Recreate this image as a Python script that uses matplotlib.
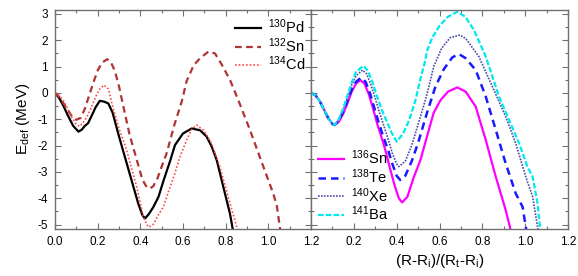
import matplotlib
matplotlib.use("Agg")
import matplotlib.pyplot as plt
from matplotlib.ticker import MultipleLocator, FixedLocator, FixedFormatter

plt.rcParams['font.family'] = ['Liberation Sans', 'DejaVu Sans']
plt.rcParams['mathtext.default'] = 'regular'
plt.rcParams['axes.unicode_minus'] = False

# ---------------- left panel data ----------------
pd130_x = [0, 0.02, 0.04, 0.06, 0.085, 0.11, 0.125, 0.14, 0.155, 0.17, 0.19, 0.21, 0.23, 0.25,
           0.27, 0.30, 0.33, 0.36, 0.39, 0.41, 0.422, 0.44, 0.46, 0.485, 0.51, 0.539, 0.5625,
           0.60, 0.641, 0.68, 0.711, 0.735, 0.758, 0.789, 0.82, 0.836]
pd130_y = [0, -0.2, -0.5, -0.85, -1.25, -1.47, -1.4, -1.25, -1.15, -0.9, -0.55, -0.30, -0.33, -0.40,
           -0.75, -1.65, -2.5, -3.35, -4.2, -4.65, -4.77, -4.6, -4.35, -3.95, -3.3, -2.6, -1.98,
           -1.54, -1.35, -1.42, -1.66, -2.05, -2.55, -3.57, -4.58, -5.3]

sn132_x = [0, 0.02, 0.04, 0.06, 0.08, 0.10, 0.12, 0.14, 0.16, 0.18, 0.20, 0.22, 0.245, 0.26, 0.28,
           0.30, 0.32, 0.35, 0.38, 0.41, 0.43, 0.445, 0.46, 0.48, 0.50, 0.523, 0.56, 0.594, 0.617,
           0.65, 0.68, 0.719, 0.75, 0.78, 0.82, 0.859, 0.914, 0.977, 1.023, 1.04, 1.055, 1.062]
sn132_y = [0, -0.15, -0.4, -0.65, -0.9, -1.02, -0.95, -0.6, -0.1, 0.4, 0.85, 1.15, 1.28, 1.2, 0.85,
           0.25, -0.5, -1.6, -2.45, -3.3, -3.58, -3.63, -3.55, -3.25, -2.8, -2.3, -1.2, -0.33, 0.45,
           1.05, 1.32, 1.57, 1.5, 1.1, 0.5, -0.27, -1.41, -2.81, -3.82, -4.3, -5.15, -5.4]

cd134_x = [0, 0.02, 0.04, 0.06, 0.08, 0.10, 0.115, 0.13, 0.15, 0.165, 0.19, 0.21, 0.23, 0.25, 0.273,
           0.30, 0.336, 0.36, 0.383, 0.414, 0.43, 0.44, 0.46, 0.48, 0.508, 0.53, 0.56, 0.586, 0.617,
           0.64, 0.664, 0.70, 0.734, 0.773, 0.812, 0.852, 0.86]
cd134_y = [0, -0.1, -0.3, -0.6, -0.95, -1.2, -1.27, -1.15, -0.9, -0.65, -0.15, 0.15, 0.30, 0.15, -0.6,
           -1.35, -2.17, -2.9, -3.57, -4.71, -5.0, -5.1, -5.0, -4.7, -4.33, -3.8, -3.1, -2.43, -1.79,
           -1.4, -1.22, -1.45, -1.92, -2.81, -3.95, -5.09, -5.4]

# ---------------- right panel data ----------------
sn136_x = [0, 0.02, 0.04, 0.06, 0.08, 0.10, 0.11, 0.13, 0.15, 0.17, 0.19, 0.21, 0.23, 0.25, 0.27,
           0.29, 0.31, 0.33, 0.347, 0.37, 0.39, 0.41, 0.425, 0.45, 0.48, 0.511, 0.54, 0.573, 0.605,
           0.64, 0.683, 0.722, 0.769, 0.816, 0.863, 0.909, 0.935]
sn136_y = [0, -0.08, -0.3, -0.62, -0.95, -1.18, -1.22, -1.1, -0.8, -0.4, 0.05, 0.35, 0.49, 0.35, -0.05,
           -0.6, -1.2, -1.7, -2.17, -2.9, -3.5, -4.0, -4.16, -3.95, -3.2, -2.55, -1.7, -0.75, -0.27,
           0.05, 0.21, 0.05, -0.52, -1.79, -3.19, -4.45, -5.3]

te138_x = [0, 0.02, 0.04, 0.06, 0.08, 0.10, 0.11, 0.13, 0.15, 0.17, 0.19, 0.21, 0.234, 0.255, 0.275,
           0.295, 0.315, 0.335, 0.36, 0.38, 0.40, 0.417, 0.44, 0.47, 0.50, 0.54, 0.581, 0.62, 0.66,
           0.69, 0.722, 0.769, 0.816, 0.863, 0.909, 0.956, 0.988, 1.003, 1.01]
te138_y = [0, -0.08, -0.3, -0.62, -0.95, -1.18, -1.22, -1.05, -0.72, -0.3, 0.12, 0.42, 0.58, 0.42, 0.0,
           -0.55, -1.1, -1.6, -2.17, -2.7, -3.15, -3.31, -3.15, -2.6, -1.9, -0.8, 0.24, 0.9, 1.35,
           1.48, 1.32, 0.87, -0.14, -1.41, -2.68, -3.82, -4.33, -5.09, -5.4]

xe140_x = [0, 0.02, 0.04, 0.06, 0.08, 0.10, 0.11, 0.13, 0.15, 0.17, 0.19, 0.21, 0.241, 0.26, 0.28,
           0.30, 0.32, 0.34, 0.36, 0.38, 0.40, 0.41, 0.44, 0.47, 0.50, 0.54, 0.573, 0.61, 0.65,
           0.695, 0.722, 0.784, 0.847, 0.909, 0.956, 1.003, 1.035, 1.058, 1.065]
xe140_y = [0, -0.08, -0.3, -0.62, -0.95, -1.18, -1.22, -1.02, -0.65, -0.2, 0.3, 0.65, 0.87, 0.72, 0.3,
           -0.2, -0.75, -1.25, -1.75, -2.3, -2.7, -2.8, -2.6, -2.0, -1.2, -0.1, 1.0, 1.7, 2.1,
           2.2, 2.07, 1.38, 0.24, -0.9, -1.92, -3.19, -3.95, -5.09, -5.4]

ba141_x = [0, 0.02, 0.04, 0.06, 0.08, 0.10, 0.11, 0.13, 0.15, 0.17, 0.19, 0.21, 0.245, 0.265, 0.285,
           0.305, 0.331, 0.355, 0.378, 0.40, 0.43, 0.46, 0.488, 0.51, 0.534, 0.542, 0.566, 0.60,
           0.64, 0.683, 0.72, 0.761, 0.816, 0.878, 0.925, 0.972, 1.011, 1.035, 1.058, 1.069, 1.075]
ba141_y = [0, -0.08, -0.3, -0.62, -0.95, -1.18, -1.22, -1.0, -0.6, -0.1, 0.4, 0.8, 1.03, 0.85, 0.45,
           -0.05, -0.65, -1.1, -1.54, -1.85, -1.55, -1.0, -0.27, 0.5, 1.25, 1.6, 2.1, 2.55,
           2.9, 3.08, 2.9, 2.39, 1.38, -0.14, -1.03, -1.92, -2.81, -3.19, -4.2, -5.09, -5.4]

xticks_left = [0.0, 0.2, 0.4, 0.6, 0.8, 1.0, 1.2]
xlabels_left = ['0.0', '0.2', '0.4', '0.6', '0.8', '1.0', '1.2']
xlabels_right = ['', '0.2', '0.4', '0.6', '0.8', '1.0', '1.2']
yticks = [-5, -4, -3, -2, -1, 0, 1, 2, 3]

W, H = 578, 276
fig = plt.figure(figsize=(W / 100, H / 100), dpi=100)
axL = fig.add_axes([55 / W, 1 - 229 / H, 256 / W, 219.5 / H])
axR = fig.add_axes([311 / W, 1 - 229 / H, 257 / W, 219.5 / H])

spine_col = '#707070'
for ax in (axL, axR):
    ax.set_xlim(0, 1.2)
    ax.set_ylim(-5.17, 3.17)
    ax.xaxis.set_major_locator(FixedLocator(xticks_left))
    ax.xaxis.set_minor_locator(MultipleLocator(0.1))
    ax.yaxis.set_major_locator(FixedLocator(yticks))
    ax.yaxis.set_minor_locator(MultipleLocator(0.5))
    ax.tick_params(which='both', direction='in', top=True, right=True, color=spine_col,
                   labelsize=8.5, width=0.8)
    ax.tick_params(which='major', length=4)
    ax.tick_params(which='minor', length=2)
    ax.tick_params(axis='x', pad=5)
    ax.tick_params(axis='y', pad=5)
    for s in ax.spines.values():
        s.set_color(spine_col)
        s.set_linewidth(1.0)

axL.xaxis.set_major_formatter(FixedFormatter(xlabels_left))
axR.xaxis.set_major_formatter(FixedFormatter(xlabels_right))
axR.set_yticklabels([])

axL.plot(pd130_x, pd130_y, color='black', lw=1.6, label='$^{130}$Pd')
axL.plot(sn132_x, sn132_y, color='#b03434', lw=1.6, dashes=(3, 2), label='$^{132}$Sn')
axL.plot(cd134_x, cd134_y, color='#ff4a4a', lw=1.2, dashes=(1, 1.2), label='$^{134}$Cd')

axR.plot(sn136_x, sn136_y, color='#ff00ff', lw=1.6, label='$^{136}$Sn')
axR.plot(te138_x, te138_y, color='#1a1aff', lw=1.8, dashes=(3, 2), label='$^{138}$Te')
axR.plot(xe140_x, xe140_y, color='#4a4aa8', lw=1.2, dashes=(1, 0.8), label='$^{140}$Xe')
axR.plot(ba141_x, ba141_y, color='#00e8f0', lw=1.6, dashes=(2.5, 1), label='$^{141}$Ba')

leg_kw = dict(frameon=False, fontsize=10.5, handlelength=1.8, handletextpad=0.45,
              labelspacing=0.0, borderaxespad=0.0)
axL.legend(loc='upper right', bbox_to_anchor=(1.0, 0.99), **leg_kw)
axR.legend(loc='lower left', bbox_to_anchor=(0.005, 0.0), **leg_kw)

axL.set_ylabel('E$_{def}$ (MeV)', fontsize=11, labelpad=4)
axR.set_xlabel('(R-R$_i$)/(R$_t$-R$_i$)', fontsize=11, labelpad=3)

fig.savefig('out.png', dpi=100)
